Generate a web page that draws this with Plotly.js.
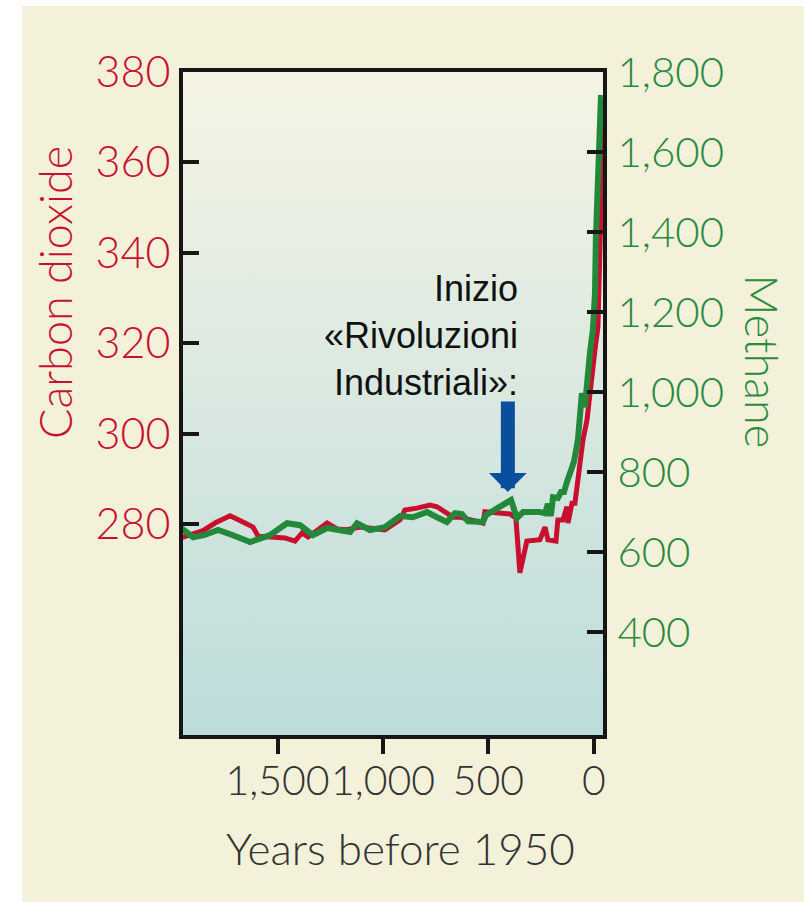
<!DOCTYPE html>
<html>
<head>
<meta charset="utf-8">
<script src="https://cdn.plot.ly/plotly-3.0.1.min.js"></script>
<style>
  html, body { margin: 0; padding: 0; background: #ffffff; width: 804px; height: 902px; overflow: hidden; }
  #panel { position: absolute; left: 22px; top: 6px; width: 782px; height: 896px; background: #f3f1d9; }
  #grad { position: absolute; left: 161px; top: 66px; width: 420px; height: 663px;
          background: linear-gradient(to bottom, #f5f4e4 0%, #d9e8e0 50%, #bcdcda 100%); }
  #chart { position: absolute; left: 0; top: 0; width: 782px; height: 896px; }
</style>
</head>
<body>
<div id="panel"><div id="grad"></div><div id="chart"></div></div>
<script>
// Carbon dioxide (ppm) vs years before 1950
const co2Years = [1962, 1891, 1853, 1796, 1725, 1654, 1616, 1592, 1512, 1464, 1417, 1384, 1355, 1289, 1265, 1218, 1171, 1109, 1062, 991, 919, 896, 839, 777, 744, 697, 668, 635, 588, 526, 517, 460, 398, 370, 351, 318, 256, 232, 218, 180, 171, 147, 128, 123, 104, 90, 76, 66, 52, 33, 19, 5, -5, -19, -30, -38, -42];
const co2Values = [276.9, 278.0, 278.5, 280.2, 281.8, 280.2, 279.3, 277.3, 277.1, 276.9, 276.2, 278.0, 277.1, 279.3, 280.2, 278.9, 278.7, 279.3, 279.1, 278.7, 280.9, 283.1, 283.5, 284.2, 283.8, 282.4, 281.5, 281.5, 280.9, 280.2, 282.7, 282.4, 282.2, 281.3, 269.2, 276.2, 276.5, 279.3, 276.5, 276.2, 280.9, 280.9, 283.8, 280.2, 284.6, 284.6, 289.7, 293.7, 298.6, 303.0, 309.6, 314.1, 318.5, 323.6, 340, 358, 372];

// Methane (ppb) vs years before 1950
const ch4Years = [1962, 1900, 1848, 1782, 1711, 1630, 1536, 1455, 1393, 1332, 1265, 1156, 1123, 1062, 991, 919, 858, 791, 744, 697, 659, 626, 597, 526, 512, 445, 393, 365, 336, 256, 232, 218, 204, 194, 171, 156, 142, 128, 114, 95, 76, 57, 43, 33, 19, 5, -5, -9, -19, -28, -33, -42];
const ch4Values = [662, 637, 642, 655, 642, 625, 642, 672, 667, 642, 660, 650, 672, 655, 662, 690, 687, 700, 687, 675, 697, 695, 677, 675, 692, 712, 730, 685, 700, 700, 697, 720, 690, 737, 735, 750, 750, 775, 797, 825, 880, 997, 962, 1030, 1097, 1155, 1247, 1380, 1555, 1662, 1735, 1735];

// Ticks
const xTicks = [1500, 1000, 500, 0];
const co2Ticks = [280, 300, 320, 340, 360, 380];
const ch4Ticks = [400, 600, 800, 1000, 1200, 1400, 1600, 1800];

const RED = '#c8102e';
const GREEN = '#23893a';
const TXT_GREEN = '#2b8a3c';
const FRAME = '#161616';
const FONT = 'Lato, "Open Sans", sans-serif';

const traces = [
  { x: co2Years, y: co2Values, type: 'scatter', mode: 'lines', yaxis: 'y',
    line: { color: RED, width: 5 }, hoverinfo: 'skip', showlegend: false },
  { x: ch4Years, y: ch4Values, type: 'scatter', mode: 'lines', yaxis: 'y2',
    line: { color: GREEN, width: 6 }, hoverinfo: 'skip', showlegend: false }
];

const layout = {
  width: 782, height: 896,
  margin: { l: 161, r: 201, t: 66, b: 167, pad: 0 },
  paper_bgcolor: 'rgba(0,0,0,0)',
  plot_bgcolor: 'rgba(0,0,0,0)',
  showlegend: false,
  xaxis: {
    range: [1948, -43], tickvals: xTicks, tickformat: ',', tickangle: 0,
    ticks: 'outside', ticklen: 15, tickwidth: 4, tickcolor: FRAME,
    showline: true, linewidth: 4, linecolor: FRAME, mirror: true,
    showgrid: false, zeroline: false, ticklabelstandoff: -8,
    tickfont: { family: FONT, size: 41, color: '#333333', weight: 300 }
  },
  yaxis: {
    range: [233.3, 380], tickvals: co2Ticks,
    ticks: 'inside', ticklen: 16, tickwidth: 4, tickcolor: FRAME,
    showline: true, linewidth: 4, linecolor: FRAME,
    showgrid: false, zeroline: false, ticklabelstandoff: 0,
    tickfont: { family: FONT, size: 43, color: RED, weight: 300 }
  },
  yaxis2: {
    range: [142.5, 1800], tickvals: ch4Ticks, tickformat: ',',
    overlaying: 'y', side: 'right',
    ticks: 'inside', ticklen: 16, tickwidth: 4, tickcolor: FRAME,
    showline: true, linewidth: 4, linecolor: FRAME,
    showgrid: false, zeroline: false, ticklabelstandoff: 2,
    tickfont: { family: FONT, size: 42, color: TXT_GREEN, weight: 300 }
  },
  annotations: [
    { text: 'Carbon dioxide', xref: 'paper', yref: 'paper', x: -0.305, y: 0.668,
      textangle: -90, showarrow: false, xanchor: 'center', yanchor: 'middle',
      font: { family: FONT, size: 45, color: RED, weight: 300 } },
    { text: 'Methane', xref: 'paper', yref: 'paper', x: 1.379, y: 0.563,
      textangle: 90, showarrow: false, xanchor: 'center', yanchor: 'middle',
      font: { family: FONT, size: 45, color: TXT_GREEN, weight: 300 } },
    { text: 'Years before 1950', xref: 'paper', yref: 'paper', x: 0.519, y: -0.17,
      showarrow: false, xanchor: 'center', yanchor: 'middle',
      font: { family: FONT, size: 44, color: '#333333', weight: 300 } },
    { text: 'Inizio<br>«Rivoluzioni<br>Industriali»:', xref: 'paper', yref: 'paper',
      x: 0.802, y: 0.603, xanchor: 'right', yanchor: 'middle', align: 'right',
      showarrow: false,
      font: { family: '"Liberation Sans", Arial, sans-serif', size: 36, color: '#111111' } },
    { text: '', x: 408, y: 750, xref: 'x', yref: 'y2',
      showarrow: true, arrowhead: 1, arrowwidth: 14, arrowsize: 0.45,
      arrowcolor: '#0a4f9e', ax: 0, ay: -92, standoff: 0 }
  ]
};

Plotly.newPlot('chart', traces, layout, { staticPlot: true, displayModeBar: false });
</script>
</body>
</html>
